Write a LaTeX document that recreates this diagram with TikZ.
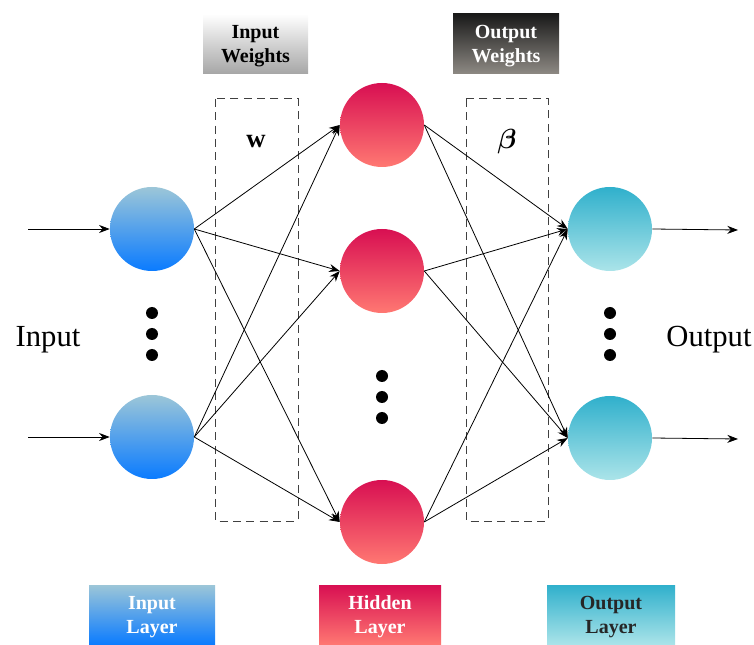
\documentclass[tikz,border=0pt]{standalone}
\usepackage{fontspec}
\setmainfont{Liberation Serif}
\usepackage{amsmath}
\usepackage{bm}
\usepackage{tikz}
\usetikzlibrary{
  arrows,
  arrows.meta,
  shapes.misc,
  positioning
}
\definecolor{inTop}{HTML}{9CC6D8}
\definecolor{inBot}{HTML}{0A7BFF}
\definecolor{hidTop}{HTML}{D80F52}
\definecolor{hidBot}{HTML}{FF7872}
\definecolor{outTop}{HTML}{30B0CC}
\definecolor{outBot}{HTML}{ABE4E9}

\begin{document}
\begin{tikzpicture}[x=0.75pt,y=-0.75pt,
      neuron/.style={
         circle,
         minimum size=63pt,
         inner sep=0pt
      },
      inneuron/.style={neuron, top color=inTop, bottom color=inBot},
      hidneuron/.style={neuron, top color=hidTop, bottom color=hidBot},
      outneuron/.style={neuron, top color=outTop, bottom color=outBot},
      dot/.style={circle, fill=black, inner sep=0pt, minimum size=9pt},
      tag/.style={
         rectangle,
         minimum height=45pt,
         inner sep=0pt,
         align=center,
         font=\fontsize{15}{18.5}\selectfont\bfseries
      },
      weightbox/.style={draw=black!75, line width=0.75pt, dash pattern=on 6pt off 4pt},
      tip/.style={-{Stealth[length=8pt,width=6pt]}},
      link/.style={line width=0.6pt, tip},
      bigtext/.style={font=\fontsize{23}{27}\selectfont}
    ]
    \useasboundingbox (0,0) rectangle (754,645);
    % dashed weight regions
    \draw[weightbox] (215,99) rectangle (298,521);
    \draw[weightbox] (466,99) rectangle (548,521);
    \node (wl) at (256,142) {\fontsize{20}{22}\selectfont\bfseries w};
    \node (bl) at (507,142) {\fontsize{20}{22}\selectfont$\bm{\beta}$};
    % neurons
    \node (n11) [inneuron] at (152,229) {};
    \node (n12) [inneuron] at (152,437) {};
    \node (n21) [hidneuron] at (382,125) {};
    \node (n22) [hidneuron] at (382,271) {};
    \node (n23) [hidneuron] at (382,522) {};
    \node (n31) [outneuron] at (610,229) {};
    \node (n32) [outneuron] at (610,438) {};
    % dots
    \node (d11) [dot] at (152,313) {};
    \node (d12) [dot] at (152,334) {};
    \node (d13) [dot] at (152,355) {};
    \node (d21) [dot] at (382,376) {};
    \node (d22) [dot] at (382,397) {};
    \node (d23) [dot] at (382,418) {};
    \node (d31) [dot] at (610,313) {};
    \node (d32) [dot] at (610,334) {};
    \node (d33) [dot] at (610,355) {};
    % side texts
    \node (inp) [bigtext] at (48,340) {Input};
    \node (outp) [bigtext] at (709,340) {Output};
    \coordinate (a1) at (28,229);
    \coordinate (a2) at (28,437);
    \coordinate (b1) at (738,230);
    \coordinate (b2) at (738,439);
    % tags
    \node (tw1) [tag, minimum width=78.75pt, top color=white, bottom color=black!35] at (255.5,44) {\strut Input\\Weights};
    \node (tw2) [tag, minimum width=79.5pt, top color=black!90, bottom color={rgb,255:red,142;green,138;blue,132}, text=white] at (506,44) {\strut Output\\Weights};
    \node (tl1) [tag, minimum width=94.5pt, top color=inTop, bottom color=inBot, text=white] at (152,615) {\strut Input\\Layer};
    \node (tl2) [tag, minimum width=91.5pt, top color=hidTop, bottom color=hidBot, text=white] at (380,615) {\strut Hidden\\Layer};
    \node (tl3) [tag, minimum width=96pt, top color=outTop, bottom color=outBot, text=black!85] at (611,615) {\strut Output\\Layer};
    % connections
    \draw[link] (a1) -- (n11.west);
    \draw[link] (a2) -- (n12.west);
    \draw[link] (n11.east) -- (n21.west);
    \draw[link] (n11.east) -- (n22.west);
    \draw[link] (n11.east) -- (n23.west);
    \draw[link] (n12.east) -- (n21.west);
    \draw[link] (n12.east) -- (n22.west);
    \draw[link] (n12.east) -- (n23.west);
    \draw[link] (n21.east) -- (n31.west);
    \draw[link] (n21.east) -- (n32.west);
    \draw[link] (n22.east) -- (n31.west);
    \draw[link] (n22.east) -- (n32.west);
    \draw[link] (n23.east) -- (n31.west);
    \draw[link] (n23.east) -- (n32.west);
    \draw[link] (n31.east) -- (b1);
    \draw[link] (n32.east) -- (b2);
\end{tikzpicture}
\end{document}
